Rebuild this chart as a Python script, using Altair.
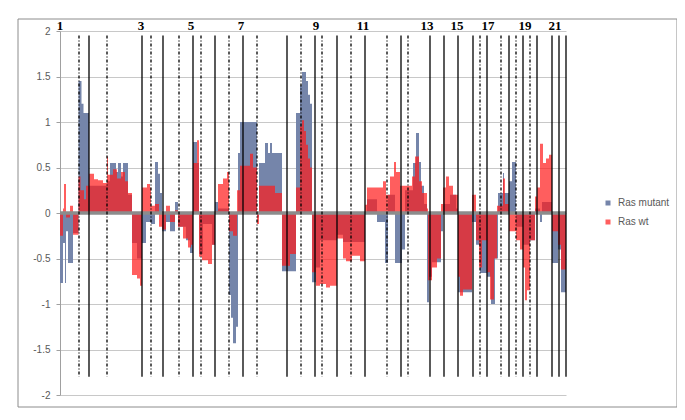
import altair as alt
import pandas as pd

# ---- data (genome position along the x axis, log ratio) ----
genome_end = 566

mut_start = [60, 63, 65, 66, 68, 73, 78.5, 81.5, 83.5, 89, 107, 110, 116, 118, 121, 123, 128, 132, 137, 142,
             146, 151, 155, 158, 160, 162, 166, 170, 175, 178, 186, 190, 193, 197, 199, 203, 212, 215, 218, 229,
             231, 233, 236, 238, 240, 257, 259, 265, 268, 270, 272, 282, 296, 300, 302, 306, 308, 310, 312, 316,
             320, 337, 343, 365, 367, 377, 385, 388, 395, 402, 405, 413, 416, 419, 421, 424, 427, 429, 432, 441,
             443, 450, 456, 458, 472, 476, 480, 487, 491, 495, 498, 503, 504, 509, 512, 516, 523, 530, 535, 540,
             542, 552, 558, 561]
mut_val = [-0.77, -0.33, -0.77, -0.2, -0.55, -0.22, 1.45, 1.2, 1.1, 0.3, 0.35, 0.55, 0.45, 0.55, 0.4, 0.55, 0.2, -0.33, -0.5, -0.33,
           -0.1, -0.12, 0.56, 0.43, 0.22, -0.2, -0.1, -0.2, 0.12, -0.15, -0.3, -0.44, 0.78, 0.55, -0.45, -0.12, -0.35, 0.12, 0.05, -0.9,
           -1.15, -1.43, -1.25, 0.66, 1.0, -0.05, 0.55, 0.77, 0.66, 0.77, 0.66, -0.64, 1.1, 1.4, 1.55, 1.45, 1.3, 1.2, -0.76, -0.6,
           -0.3, -0.24, -0.32, 0.0, 0.15, -0.1, -0.55, 0.2, -0.55, -0.4, 0.25, 0.55, 0.88, 0.56, 0.3, 0.1, -0.98, -0.7, -0.54, -0.2,
           0.1, 0.2, 0.05, -0.87, -0.1, -0.35, -0.66, -0.7, -1.0, -0.5, 0.22, 0.44, 0.22, 0.35, 0.56, -0.15, -0.35, -0.3, 0.05, -0.1,
           0.12, -0.55, -0.4, -0.87]

wt_start = [60, 63, 64, 66, 70, 73, 78.5, 80.5, 84, 86, 89, 94, 98, 103, 107, 108, 113, 117, 121, 125,
            128, 132, 137, 140, 142, 147, 150, 151, 155, 159, 162, 166, 170, 175, 178, 183, 188, 191, 193, 197,
            199, 202, 208, 212, 215, 218, 223, 227, 229, 233, 237, 240, 250, 253, 257, 259, 275, 282, 290, 296,
            300, 302, 304, 306, 308, 310, 312, 316, 320, 326, 330, 337, 343, 346, 352, 360, 365, 367, 383, 386,
            390, 394, 396, 400, 412, 415, 419, 422, 427, 428, 432, 437, 441, 443, 446, 449, 453, 458, 460, 463,
            472, 476, 479, 482, 487, 490, 494, 497, 503, 505, 509, 516, 520, 523, 525, 527, 530, 535, 537, 540,
            543, 546, 549, 552, 558, 561]
wt_val = [-0.25, 0.05, 0.32, -0.05, 0.08, -0.24, 0.4, 0.25, 0.15, 0.3, 0.43, 0.37, 0.36, 0.33, 0.62, 0.42, 0.48, 0.38, 0.45, 0.35,
          0.22, -0.68, -0.72, -0.8, 0.28, 0.32, 0.28, 0.08, 0.1, -0.15, -0.18, 0.08, -0.1, 0.03, -0.15, -0.28, -0.38, -0.35, 0.55, 0.8,
          -0.48, -0.52, -0.56, -0.35, 0.02, 0.32, 0.38, 0.45, -0.2, -0.25, 0.25, 0.52, 0.65, 0.5, -0.12, 0.3, 0.22, -0.58, -0.45, 0.28,
          0.95, 1.02, 0.9, 0.75, 0.6, 0.5, -0.65, -0.8, -0.78, -0.82, -0.8, -0.28, -0.5, -0.53, -0.47, -0.53, 0.09, 0.28, 0.35, 0.2,
          0.4, 0.56, 0.45, 0.3, 0.4, 0.62, 0.35, 0.22, 0.05, -0.74, -0.6, -0.5, 0.1, 0.28, 0.4, 0.3, 0.2, -0.7, -0.91, -0.84,
          0.2, -0.3, -0.6, -0.3, -0.65, -0.95, -0.5, 0.08, 0.38, 0.1, -0.2, -0.3, -0.4, -0.6, -0.96, -0.85, -0.3, 0.18, 0.28, 0.76,
          0.55, 0.6, 0.64, -0.2, -0.35, -0.62]

chrom_bounds = [89, 142, 163, 193, 215, 243, 287, 315, 337, 365, 401, 430, 444, 458, 473, 487, 509, 523, 537, 552, 559, 566]
centromeres = [79, 107, 151, 179, 201, 229, 257, 301, 322, 351, 387, 408, 480, 501, 516, 530]
label_text = ["1", "3", "5", "7", "9", "11", "13", "15", "17", "19", "21"]
label_pos = [60, 141, 191, 241, 316, 363, 427, 457, 488, 525, 555]
y_ticks = [-2, -1.5, -1, -0.5, 0, 0.5, 1, 1.5, 2]
series_names = ["Ras mutant", "Ras wt"]
series_colors = ["#7585AA", "#FF1A1A"]
series_opacity = [1.0, 0.7]


def steps(starts, vals, name):
    return pd.DataFrame({"pos": starts + [genome_end], "ratio": vals + [vals[-1]], "series": name})


prof = pd.concat([steps(mut_start, mut_val, series_names[0]), steps(wt_start, wt_val, series_names[1])],
                 ignore_index=True)

xscale = alt.Scale(domain=[60, genome_end], nice=False, zero=False)
yscale = alt.Scale(domain=[-2, 2], nice=False)

legend = alt.Legend(title=None, orient="none", legendX=543, legendY=167, symbolType="square",
                    symbolSize=25, symbolStrokeWidth=0, labelFont="Liberation Sans", labelFontSize=10,
                    labelColor="#595959", rowPadding=9, padding=0, labelOffset=5)

area = alt.Chart(prof).mark_area(interpolate="step-after").encode(
    x=alt.X("pos:Q", scale=xscale, axis=None),
    y=alt.Y("ratio:Q", scale=yscale, stack=None,
            axis=alt.Axis(values=y_ticks, labelExpr="'' + datum.value", title=None)),
    y2=alt.datum(0),
    color=alt.Color("series:N", scale=alt.Scale(domain=series_names, range=series_colors), legend=legend),
    opacity=alt.Opacity("series:N", scale=alt.Scale(domain=series_names, range=series_opacity), legend=legend),
)

zero_line = alt.Chart(pd.DataFrame({"y": [0]})).mark_rule(color="#8C8C8C", strokeWidth=3.5).encode(
    y=alt.Y("y:Q", scale=yscale)
)

solid = alt.Chart(pd.DataFrame({"pos": chrom_bounds})).mark_rule(color="black", strokeWidth=1.3).encode(
    x=alt.X("pos:Q", scale=xscale), y=alt.datum(1.95), y2=alt.datum(-1.8)
)
dotted = alt.Chart(pd.DataFrame({"pos": centromeres})).mark_rule(
    color="black", strokeWidth=1.3, strokeDash=[3, 2, 1, 2]
).encode(x=alt.X("pos:Q", scale=xscale), y=alt.datum(1.95), y2=alt.datum(-1.8))

labels = alt.Chart(pd.DataFrame({"pos": label_pos, "t": label_text})).mark_text(
    font="Liberation Serif", fontWeight="bold", fontSize=13, baseline="alphabetic", color="black", dy=-1
).encode(x=alt.X("pos:Q", scale=xscale), y=alt.datum(2), text="t:N")

border = alt.Chart(pd.DataFrame({"a": [0]})).mark_rect(filled=False, stroke="#8C8C8C", strokeWidth=1).encode(
    x=alt.value(-42), x2=alt.value(617), y=alt.value(-12), y2=alt.value(376)
)

chart = alt.layer(border, area, zero_line, solid, dotted, labels).properties(
    width=506, height=364,
    autosize=alt.AutoSizeParams(type="none"),
    padding={"left": 52, "top": 23, "right": 111, "bottom": 20},
).configure_view(stroke=None).configure_axisY(
    domainColor="#A0A0A0", tickColor="#A0A0A0", tickSize=4, gridColor="#C8C8C8",
    labelFont="Liberation Sans", labelFontSize=10, labelColor="#595959", labelPadding=6
)

chart.save("out.html", embed_options={"renderer": "svg", "actions": False})
